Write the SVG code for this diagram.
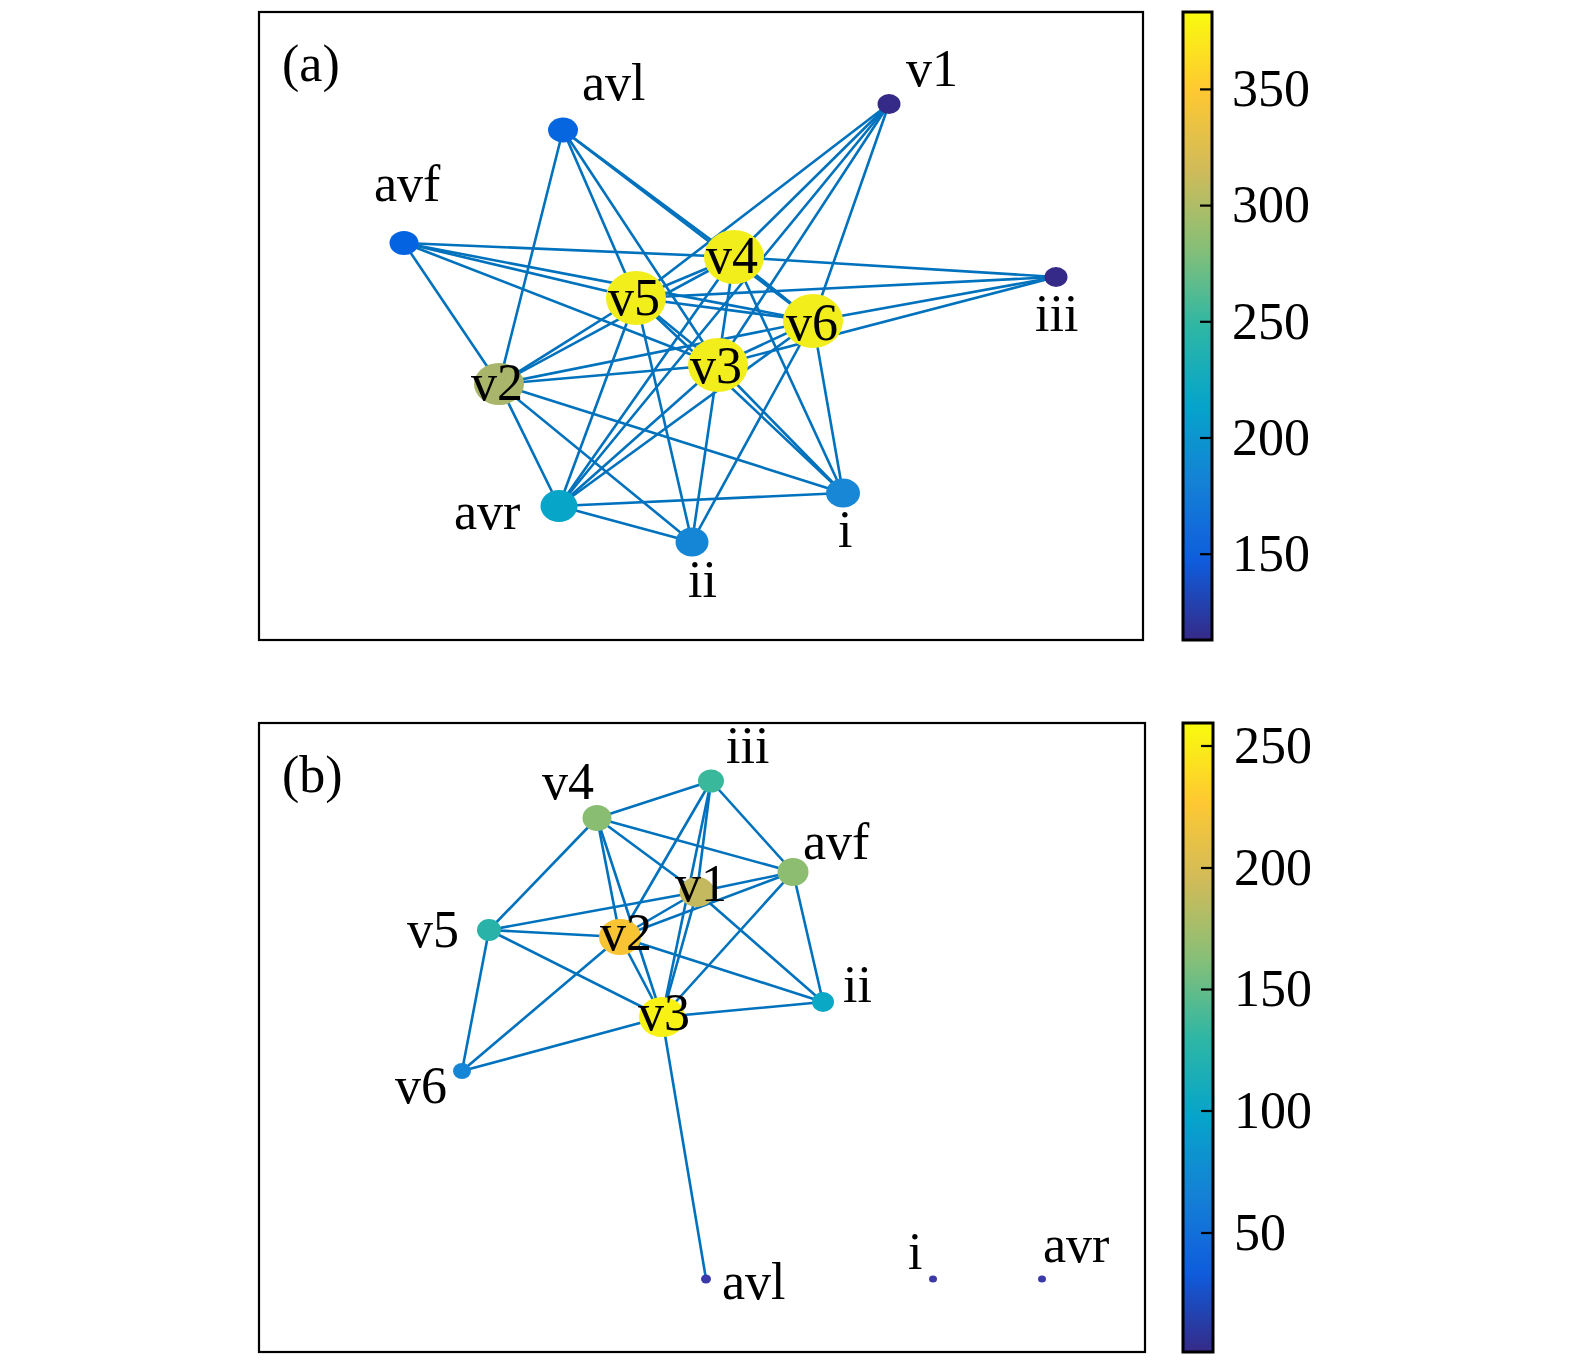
<svg xmlns="http://www.w3.org/2000/svg" width="1575" height="1366" viewBox="0 0 1575 1366">
<defs>
<linearGradient id="parula" x1="0" y1="1" x2="0" y2="0">
<stop offset="0" stop-color="#352a87"/>
<stop offset="0.125" stop-color="#0f5cdd"/>
<stop offset="0.25" stop-color="#1481d6"/>
<stop offset="0.375" stop-color="#06a4ca"/>
<stop offset="0.5" stop-color="#2eb7a4"/>
<stop offset="0.625" stop-color="#87bf77"/>
<stop offset="0.75" stop-color="#d1bb59"/>
<stop offset="0.875" stop-color="#fec832"/>
<stop offset="1" stop-color="#f9fb0e"/>
</linearGradient>
</defs>
<style>
.frame{fill:none;stroke:#000;stroke-width:2.2}
.cbar{fill:url(#parula);stroke:#000;stroke-width:3}
.tick{stroke:#000;stroke-width:2.2}
.edges line{stroke:#0072bd;stroke-width:2.6;stroke-linecap:round}
text{font-family:"Liberation Serif","Times New Roman",serif;font-size:52px;fill:#000}
</style>
<rect width="1575" height="1366" fill="#fff"/>

<!-- Panel (a) -->
<rect class="frame" x="259" y="12" width="884" height="628"/>
<g id="colorbar-a">
<rect class="cbar" x="1183" y="12" width="29" height="628"/>
<line class="tick" x1="1200" y1="89.4" x2="1212" y2="89.4"/>
<line class="tick" x1="1200" y1="205.6" x2="1212" y2="205.6"/>
<line class="tick" x1="1200" y1="321.8" x2="1212" y2="321.8"/>
<line class="tick" x1="1200" y1="438" x2="1212" y2="438"/>
<line class="tick" x1="1200" y1="554.2" x2="1212" y2="554.2"/>
<text x="1232" y="106">350</text>
<text x="1232" y="222">300</text>
<text x="1232" y="339">250</text>
<text x="1232" y="455">200</text>
<text x="1232" y="571">150</text>
</g>
<text x="282" y="81">(a)</text>

<g id="edges-a" class="edges">
<line x1="563" y1="130" x2="499" y2="384"/>
<line x1="563" y1="130" x2="636" y2="298"/>
<line x1="563" y1="130" x2="718" y2="365"/>
<line x1="563" y1="130" x2="734" y2="257"/>
<line x1="563" y1="130" x2="813" y2="321"/>
<line x1="404" y1="243" x2="734" y2="257"/>
<line x1="404" y1="243" x2="813" y2="321"/>
<line x1="404" y1="243" x2="636" y2="298"/>
<line x1="404" y1="243" x2="718" y2="365"/>
<line x1="404" y1="243" x2="499" y2="384"/>
<line x1="889" y1="104" x2="636" y2="298"/>
<line x1="889" y1="104" x2="734" y2="257"/>
<line x1="889" y1="104" x2="559" y2="506"/>
<line x1="889" y1="104" x2="718" y2="365"/>
<line x1="889" y1="104" x2="813" y2="321"/>
<line x1="1056" y1="277" x2="734" y2="257"/>
<line x1="1056" y1="277" x2="636" y2="298"/>
<line x1="1056" y1="277" x2="813" y2="321"/>
<line x1="1056" y1="277" x2="718" y2="365"/>
<line x1="734" y1="257" x2="636" y2="298"/>
<line x1="734" y1="257" x2="813" y2="321"/>
<line x1="734" y1="257" x2="718" y2="365"/>
<line x1="734" y1="257" x2="499" y2="384"/>
<line x1="734" y1="257" x2="559" y2="506"/>
<line x1="734" y1="257" x2="843" y2="493"/>
<line x1="636" y1="298" x2="813" y2="321"/>
<line x1="636" y1="298" x2="718" y2="365"/>
<line x1="636" y1="298" x2="499" y2="384"/>
<line x1="636" y1="298" x2="559" y2="506"/>
<line x1="636" y1="298" x2="692" y2="542"/>
<line x1="636" y1="298" x2="843" y2="493"/>
<line x1="813" y1="321" x2="718" y2="365"/>
<line x1="813" y1="321" x2="499" y2="384"/>
<line x1="813" y1="321" x2="559" y2="506"/>
<line x1="813" y1="321" x2="692" y2="542"/>
<line x1="813" y1="321" x2="843" y2="493"/>
<line x1="718" y1="365" x2="499" y2="384"/>
<line x1="718" y1="365" x2="559" y2="506"/>
<line x1="718" y1="365" x2="692" y2="542"/>
<line x1="718" y1="365" x2="843" y2="493"/>
<line x1="499" y1="384" x2="559" y2="506"/>
<line x1="499" y1="384" x2="692" y2="542"/>
<line x1="499" y1="384" x2="843" y2="493"/>
<line x1="559" y1="506" x2="692" y2="542"/>
<line x1="559" y1="506" x2="843" y2="493"/>
</g>

<g id="a-avl"><ellipse cx="563" cy="130" rx="15" ry="12.5" fill="#0566df"/><text x="582" y="100">avl</text></g>
<g id="a-avf"><ellipse cx="404" cy="243" rx="14.5" ry="12" fill="#0363e1"/><text x="374" y="201">avf</text></g>
<g id="a-v1"><ellipse cx="889" cy="104" rx="11.5" ry="10" fill="#352a87"/><text x="906" y="86">v1</text></g>
<g id="a-iii"><ellipse cx="1056" cy="277" rx="11.5" ry="10" fill="#352a87"/><text x="1035" y="331">iii</text></g>
<g id="a-v4"><ellipse cx="734" cy="257" rx="30" ry="27" fill="#f2ee1c"/><text x="706" y="273">v4</text></g>
<g id="a-v5"><ellipse cx="636" cy="298" rx="30" ry="27" fill="#f2ee1c"/><text x="608" y="315">v5</text></g>
<g id="a-v6"><ellipse cx="813" cy="321" rx="30" ry="27" fill="#f2ee1c"/><text x="786" y="340">v6</text></g>
<g id="a-v3"><ellipse cx="718" cy="365" rx="30" ry="27" fill="#f2ee1c"/><text x="690" y="383">v3</text></g>
<g id="a-v2"><ellipse cx="499" cy="384" rx="25" ry="21" fill="#a9b56a"/><text x="471" y="400">v2</text></g>
<g id="a-avr"><ellipse cx="559" cy="506" rx="18.5" ry="16" fill="#07a5c8"/><text x="454" y="529">avr</text></g>
<g id="a-ii"><ellipse cx="692" cy="542" rx="16.5" ry="14.5" fill="#1585d6"/><text x="688" y="597">ii</text></g>
<g id="a-i"><ellipse cx="843" cy="493" rx="17" ry="14.5" fill="#1887d5"/><text x="838" y="547">i</text></g>

<!-- Panel (b) -->
<rect class="frame" x="259" y="723" width="886" height="629"/>
<g id="colorbar-b">
<rect class="cbar" x="1183" y="723" width="30" height="629"/>
<line class="tick" x1="1201" y1="746" x2="1213" y2="746"/>
<line class="tick" x1="1201" y1="868" x2="1213" y2="868"/>
<line class="tick" x1="1201" y1="989.5" x2="1213" y2="989.5"/>
<line class="tick" x1="1201" y1="1111" x2="1213" y2="1111"/>
<line class="tick" x1="1201" y1="1233" x2="1213" y2="1233"/>
<text x="1234" y="763">250</text>
<text x="1234" y="885">200</text>
<text x="1234" y="1006">150</text>
<text x="1234" y="1128">100</text>
<text x="1234" y="1250">50</text>
</g>
<text x="282" y="792">(b)</text>

<g id="edges-b" class="edges">
<line x1="597" y1="818" x2="711" y2="781"/>
<line x1="597" y1="818" x2="793" y2="872"/>
<line x1="597" y1="818" x2="697" y2="892"/>
<line x1="597" y1="818" x2="489" y2="930"/>
<line x1="597" y1="818" x2="620" y2="937"/>
<line x1="597" y1="818" x2="662" y2="1017"/>
<line x1="711" y1="781" x2="793" y2="872"/>
<line x1="711" y1="781" x2="620" y2="937"/>
<line x1="711" y1="781" x2="697" y2="892"/>
<line x1="711" y1="781" x2="662" y2="1017"/>
<line x1="793" y1="872" x2="697" y2="892"/>
<line x1="793" y1="872" x2="620" y2="937"/>
<line x1="793" y1="872" x2="662" y2="1017"/>
<line x1="793" y1="872" x2="823" y2="1002"/>
<line x1="697" y1="892" x2="489" y2="930"/>
<line x1="697" y1="892" x2="823" y2="1002"/>
<line x1="697" y1="892" x2="662" y2="1017"/>
<line x1="697" y1="892" x2="620" y2="937"/>
<line x1="489" y1="930" x2="620" y2="937"/>
<line x1="489" y1="930" x2="662" y2="1017"/>
<line x1="489" y1="930" x2="462" y2="1071"/>
<line x1="620" y1="937" x2="823" y2="1002"/>
<line x1="620" y1="937" x2="462" y2="1071"/>
<line x1="620" y1="937" x2="662" y2="1017"/>
<line x1="662" y1="1017" x2="823" y2="1002"/>
<line x1="662" y1="1017" x2="462" y2="1071"/>
<line x1="662" y1="1017" x2="706" y2="1279"/>
</g>

<g id="b-iii"><ellipse cx="711" cy="781" rx="13" ry="11.5" fill="#3ab89c"/><text x="726" y="763">iii</text></g>
<g id="b-v4"><ellipse cx="597" cy="818" rx="14.5" ry="13" fill="#88bd72"/><text x="542" y="799">v4</text></g>
<g id="b-avf"><ellipse cx="793" cy="872" rx="15.5" ry="14" fill="#8dbd71"/><text x="803" y="859">avf</text></g>
<g id="b-v1"><ellipse cx="697" cy="892" rx="17.5" ry="15" fill="#c4b95e"/><text x="675" y="901">v1</text></g>
<g id="b-v5"><ellipse cx="489" cy="930" rx="12" ry="11" fill="#28b2a8"/><text x="407" y="947">v5</text></g>
<g id="b-v2"><ellipse cx="620" cy="937" rx="21" ry="18" fill="#f8c433"/><text x="600" y="950">v2</text></g>
<g id="b-ii"><ellipse cx="823" cy="1002" rx="11" ry="10" fill="#0ba8c6"/><text x="843" y="1002">ii</text></g>
<g id="b-v3"><ellipse cx="662" cy="1017" rx="23" ry="20" fill="#f7f214"/><text x="638" y="1030">v3</text></g>
<g id="b-v6"><ellipse cx="462" cy="1071" rx="9" ry="8" fill="#1585d6"/><text x="395" y="1103">v6</text></g>
<g id="b-avl"><ellipse cx="706" cy="1279" rx="5" ry="4.5" fill="#3b3aa8"/><text x="722" y="1299">avl</text></g>
<g id="b-i"><ellipse cx="933" cy="1279" rx="4" ry="3.5" fill="#3b3aa8"/><text x="908" y="1269">i</text></g>
<g id="b-avr"><ellipse cx="1042" cy="1279" rx="4" ry="3.5" fill="#3b3aa8"/><text x="1043" y="1262">avr</text></g>
</svg>
